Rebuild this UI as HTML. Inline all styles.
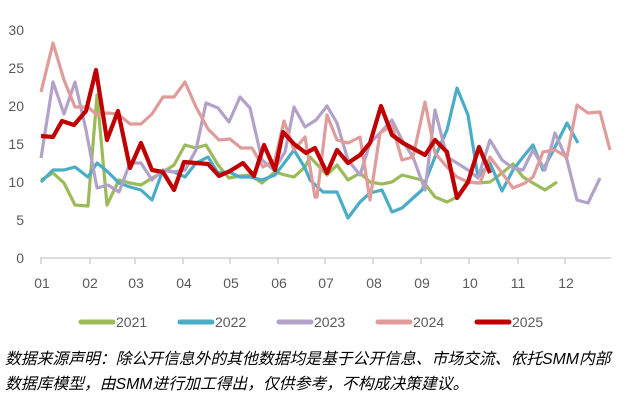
<!DOCTYPE html>
<html><head><meta charset="utf-8"><style>
body{margin:0;background:#fff;width:639px;height:404px;overflow:hidden;font-family:"Liberation Sans","Noto Sans CJK SC",sans-serif;}
</style></head><body>
<svg width="639" height="404" xmlns="http://www.w3.org/2000/svg" style="position:absolute;left:0;top:0">
<g font-family="Liberation Sans, sans-serif" font-size="14" fill="#595959" text-anchor="end">
<text x="24" y="35">30</text><text x="24" y="73">25</text><text x="24" y="111">20</text>
<text x="24" y="149">15</text><text x="24" y="187">10</text><text x="24" y="225">5</text><text x="24" y="263">0</text>
</g>
<line x1="40" y1="258" x2="611" y2="258" stroke="#d0d0d0" stroke-width="1.5"/>
<g stroke="#d0d0d0" stroke-width="1.5">
<line x1="41" y1="258" x2="41" y2="264"/><line x1="90" y1="258" x2="90" y2="264"/><line x1="135" y1="258" x2="135" y2="264"/><line x1="183" y1="258" x2="183" y2="264"/><line x1="230" y1="258" x2="230" y2="264"/><line x1="278" y1="258" x2="278" y2="264"/><line x1="325" y1="258" x2="325" y2="264"/><line x1="373" y1="258" x2="373" y2="264"/><line x1="421" y1="258" x2="421" y2="264"/><line x1="469" y1="258" x2="469" y2="264"/><line x1="518" y1="258" x2="518" y2="264"/><line x1="565" y1="258" x2="565" y2="264"/>
</g>
<g font-family="Liberation Sans, sans-serif" font-size="14" fill="#595959" text-anchor="middle">
<text x="42" y="288">01</text><text x="90" y="288">02</text><text x="136" y="288">03</text><text x="184" y="288">04</text><text x="231" y="288">05</text><text x="279" y="288">06</text><text x="326" y="288">07</text><text x="374" y="288">08</text><text x="422" y="288">09</text><text x="470" y="288">10</text><text x="518" y="288">11</text><text x="566" y="288">12</text>
</g>
<g fill="none" stroke-linejoin="round" stroke-width="3.2">
<polyline stroke="#9bbb59" points="41,180 53,173 64,183 75,205 88,206 97,95 107,205 119,180 130,183 141,185 152,178 163,172 174,165 185,145 196,148 206,145 218,165 229,178 240,176 250,175 262,183 275,172 285,175 294,177 305,167 310,157 327,175 337,165 348,180 360,173 370,182 382,184 392,182 402,175 422,180 435,197 447,202 457,197 468,182 478,183 490,182 502,173 513,164 523,177 533,183 545,190 557,182"/>
<polyline stroke="#4bacc6" points="41,182 53,170 64,170 75,167 88,177 97,163 108,172 119,183 130,187 141,190 152,200 163,170 174,172 185,177 196,163 208,157 218,173 229,172 240,177 250,177 262,180 275,175 285,162 294,150 305,168 310,180 323,192 337,192 348,218 360,202 370,193 382,190 392,212 402,208 422,190 435,157 447,130 457,88 468,115 478,177 490,163 502,191 513,170 523,157 533,145 543,170 555,147 567,123 578,143"/>
<polyline stroke="#b3a2c7" points="41,158 53,82 64,114 75,82 86,130 97,188 108,185 119,192 130,163 141,163 152,180 163,170 174,172 185,170 196,150 206,103 218,108 229,122 240,97 250,108 262,160 274,170 285,152 294,107 305,127 316,120 327,106 337,123 348,160 360,175 370,143 380,133 392,120 402,140 413,157 425,190 435,110 447,157 457,163 468,170 478,178 490,140 502,160 513,168 523,170 533,150 545,170 555,133 567,160 577,200 588,203 600,178"/>
<polyline stroke="#e09b9b" points="41,92 53,43 64,80 75,107 88,107 97,115 107,113 118,114 130,124 141,124 152,114 163,97 174,97 185,82 196,107 208,129 219,140 230,139 241,148 252,148 263,167 275,160 284,121 294,150 305,137 315,197 317,197 327,115 337,140 348,143 360,137 370,200 380,133 392,125 402,160 413,157 425,102 435,153 447,167 457,177 468,182 480,183 490,157 502,173 513,188 525,183 533,177 543,152 555,150 567,157 577,105 588,113 600,112 610,150"/>
<polyline stroke="#c00000" stroke-width="4.2" points="41,136 53,137 62,121 74,125 86,111 96,70 107,140 118,111 130,168 141,143 152,170 163,172 174,190 184,162 196,163 208,164 219,176 230,171 243,163 254,176 264,145 275,170 283,132 294,144 306,153 315,148 327,173 337,150 348,163 360,155 370,143 381,106 392,135 403,143 425,155 435,140 447,152 457,198 468,182 479,147 490,173"/>
</g>
<g stroke-width="5" stroke-linecap="round">
<line x1="81" y1="322" x2="113" y2="322" stroke="#9bbb59"/>
<line x1="180" y1="322" x2="212" y2="322" stroke="#4bacc6"/>
<line x1="279" y1="322" x2="311" y2="322" stroke="#b3a2c7"/>
<line x1="378" y1="322" x2="410" y2="322" stroke="#e09b9b"/>
<line x1="477" y1="322" x2="509" y2="322" stroke="#c00000"/>
</g>
<g font-family="Liberation Sans, sans-serif" font-size="14" fill="#595959">
<text x="116" y="327">2021</text><text x="215" y="327">2022</text><text x="314" y="327">2023</text><text x="413" y="327">2024</text><text x="512" y="327">2025</text>
</g>
<g font-family="Liberation Sans, Noto Sans CJK SC, sans-serif" font-size="15.8" font-style="italic" fill="#000">
<text x="5" y="364">数据来源声明：除公开信息外的其他数据均是基于公开信息、市场交流、依托SMM内部</text>
<text x="5" y="389">数据库模型，由SMM进行加工得出，仅供参考，不构成决策建议。</text>
</g>
</svg>
</body></html>
